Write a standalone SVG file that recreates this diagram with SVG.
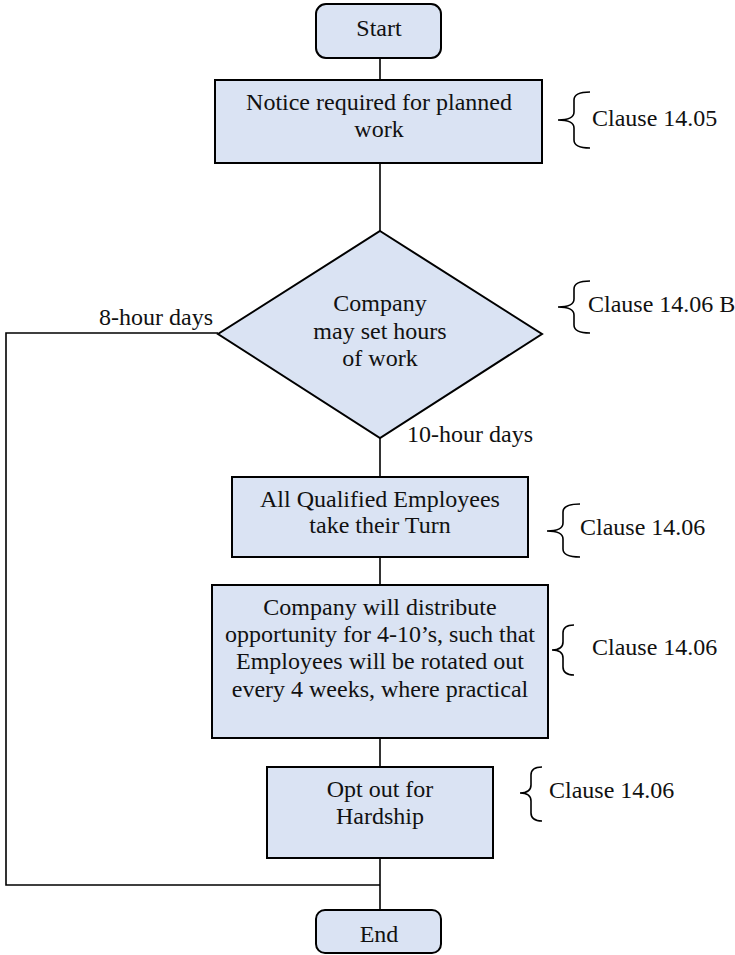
<svg xmlns="http://www.w3.org/2000/svg" width="735" height="955" viewBox="0 0 735 955">
<style>
.box{fill:#dae3f3;stroke:#000;stroke-width:2}
.t{font-family:"Liberation Serif","Times New Roman",serif;font-size:24px;fill:#111}
.c{text-anchor:middle}
.ln{fill:none;stroke:#000;stroke-width:1.6}
.br{fill:none;stroke:#000;stroke-width:1.6}
</style>
<rect width="735" height="955" fill="#fff"/>
<g id="connectors">
<line class="ln" x1="380" y1="58" x2="380" y2="80"/>
<line class="ln" x1="380" y1="163" x2="380" y2="231"/>
<line class="ln" x1="380" y1="438" x2="380" y2="477"/>
<line class="ln" x1="380" y1="557" x2="380" y2="585"/>
<line class="ln" x1="380" y1="738" x2="380" y2="767"/>
<line class="ln" x1="380" y1="858" x2="380" y2="910"/>
<polyline class="ln" points="218,333 6,333 6,885 380,885"/>
<text class="t" x="213" y="325" text-anchor="end">8-hour days</text>
<text class="t" x="407" y="442">10-hour days</text>
</g>
<g id="start">
<rect class="box" x="316" y="4" width="125" height="54" rx="10"/>
<text class="t c" x="379" y="36">Start</text>
</g>
<g id="notice">
<rect class="box" x="215" y="80" width="327" height="83"/>
<text class="t c" x="379" y="110">Notice required for planned</text>
<text class="t c" x="379" y="137">work</text>
</g>
<g id="decision">
<polygon class="box" points="380,231 542,334 380,438 218,334"/>
<text class="t c" x="380" y="311">Company</text>
<text class="t c" x="380" y="339">may set hours</text>
<text class="t c" x="380" y="366">of work</text>
</g>
<g id="qualified">
<rect class="box" x="232" y="477" width="296" height="80"/>
<text class="t c" x="380" y="507">All Qualified Employees</text>
<text class="t c" x="380" y="533">take their Turn</text>
</g>
<g id="distribute">
<rect class="box" x="212" y="585" width="336" height="153"/>
<text class="t c" x="380" y="615">Company will distribute</text>
<text class="t c" x="380" y="642">opportunity for 4-10’s, such that</text>
<text class="t c" x="380" y="669">Employees will be rotated out</text>
<text class="t c" x="380" y="697">every 4 weeks, where practical</text>
</g>
<g id="optout">
<rect class="box" x="267" y="767" width="226" height="91"/>
<text class="t c" x="380" y="797">Opt out for</text>
<text class="t c" x="380" y="824">Hardship</text>
</g>
<g id="end">
<rect class="box" x="316" y="910" width="125" height="43" rx="9"/>
<text class="t c" x="379" y="942">End</text>
</g>
<g id="clause1405">
<path class="br" d="M590,92 Q574,92 574,100 L574,112 Q574,120 558,120 Q574,120 574,128 L574,140 Q574,148 590,148"/>
<text class="t" x="592" y="126">Clause 14.05</text>
</g>
<g id="clause1406b">
<path class="br" d="M590,281 Q574,281 574,289 L574,299 Q574,307 558,307 Q574,307 574,315 L574,325 Q574,333 590,333"/>
<text class="t" x="588" y="312">Clause 14.06 B</text>
</g>
<g id="clause1406a">
<path class="br" d="M580,504 Q563,504 563,512 L563,523 Q563,531 547,531 Q563,531 563,539 L563,549 Q563,557 580,557"/>
<text class="t" x="580" y="535">Clause 14.06</text>
</g>
<g id="clause1406c">
<path class="br" d="M574,625 Q563,625 563,633 L563,642 Q563,650 552,650 Q563,650 563,658 L563,667 Q563,675 574,675"/>
<text class="t" x="592" y="655">Clause 14.06</text>
</g>
<g id="clause1406d">
<path class="br" d="M542,767 Q531,767 531,775 L531,785 Q531,793 520,793 Q531,793 531,801 L531,813 Q531,821 542,821"/>
<text class="t" x="549" y="798">Clause 14.06</text>
</g>
</svg>
